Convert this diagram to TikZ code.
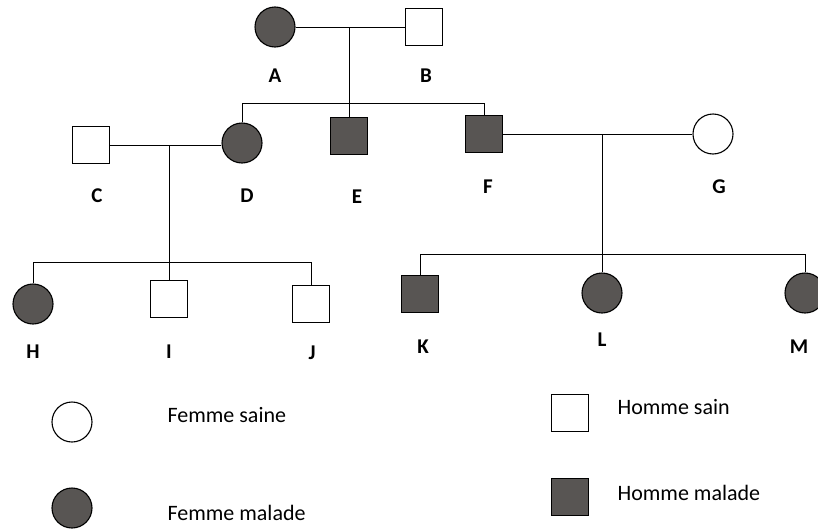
\documentclass[tikz,border=0pt]{standalone}
\usepackage{fontspec}
\setmainfont{Carlito}
\definecolor{sick}{RGB}{88,85,83}
\begin{document}
\begin{tikzpicture}[x=1pt,y=-1pt,
  line width=1.1pt,
  female/.style={circle,draw,inner sep=0pt,minimum size=40pt},
  male/.style={rectangle,draw,inner sep=0pt,minimum size=37pt},
  ill/.style={fill=sick},
  lbl/.style={font=\fontsize{21}{24}\selectfont\bfseries,inner sep=0pt},
  legtext/.style={font=\fontsize{22}{26}\selectfont,anchor=west,inner sep=0pt},
  link/.style={line width=1pt}]
\useasboundingbox (0,0) rectangle (818,530);
\clip (0,0) rectangle (818,530);
\fill[white] (0,0) rectangle (818,530);

% generation I
\node[female,ill] (A) at (275,27) {};
\node[male] (B) at (424,27) {};
\node[lbl] (lA) at (275,76) {A};
\node[lbl] (lB) at (426,76) {B};

% generation II
\node[male] (C) at (91,145) {};
\node[female,ill] (D) at (242,143) {};
\node[male,ill] (E) at (349,136) {};
\node[male,ill] (F) at (484,134) {};
\node[female] (G) at (713,134) {};
\node[lbl] (lC) at (97,196) {C};
\node[lbl] (lD) at (247,196) {D};
\node[lbl] (lE) at (357,197) {E};
\node[lbl] (lF) at (488,187) {F};
\node[lbl] (lG) at (719,187) {G};

% generation III
\node[female,ill] (H) at (33,304) {};
\node[male] (I) at (169,299) {};
\node[male] (J) at (311,304) {};
\node[male,ill] (K) at (420,294) {};
\node[female,ill] (L) at (602,293) {};
\node[female,ill] (M) at (805,293) {};
\node[lbl] (lH) at (33,352) {H};
\node[lbl] (lI) at (169,352) {I};
\node[lbl] (lJ) at (312,353) {J};
\node[lbl] (lK) at (423,347) {K};
\node[lbl] (lL) at (602,340) {L};
\node[lbl] (lM) at (799,347) {M};

% couples and offspring
\coordinate (ab) at (349,27);
\coordinate (sib1) at (349,103);
\coordinate (cd) at (169,145);
\coordinate (sib2) at (169,262);
\coordinate (fg) at (602,134);
\coordinate (sib3) at (602,254);

\draw[link] (A.east) -- (B.west);
\draw[link] (ab) -- (E.north);
\draw[link] (D.north) -- (D.north |- sib1) -- (F.north |- sib1) -- (F.north);

\draw[link] (C.east) -- (C.east -| D.west);
\draw[link] (cd) -- (I.north);
\draw[link] (H.north) -- (H.north |- sib2) -- (J.north |- sib2) -- (J.north);

\draw[link] (F.east) -- (G.west);
\draw[link] (fg) -- (L.north);
\draw[link] (K.north) -- (K.north |- sib3) -- (M.north |- sib3) -- (M.north);

% key
\node[female] (k1) at (72,422) {};
\node[female,ill] (k2) at (72,508) {};
\node[male] (k3) at (570,413) {};
\node[male,ill] (k4) at (570,497) {};
\node[legtext] (t1) at (167,415) {Femme saine};
\node[legtext] (t2) at (167,513) {Femme malade};
\node[legtext] (t3) at (617,407) {Homme sain};
\node[legtext] (t4) at (617,493) {Homme malade};
\end{tikzpicture}
\end{document}
